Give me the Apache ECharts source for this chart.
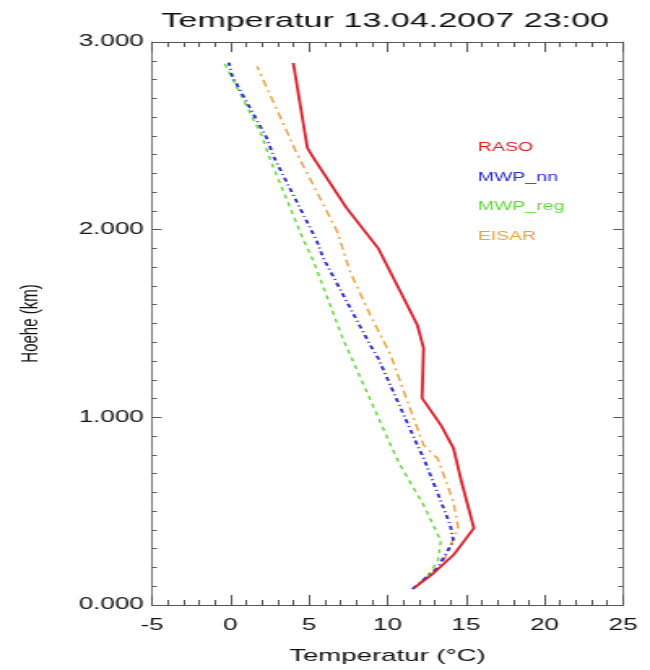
<!DOCTYPE html>
<html>
<head>
<meta charset="utf-8">
<script src="https://cdn.jsdelivr.net/npm/echarts@6/dist/echarts.min.js"></script>
<style>
  html, body { margin: 0; padding: 0; background: #fff; overflow: hidden; }
  /* The plot is laid out on a narrower canvas and widened horizontally,
     giving the broad lettering of the original IDL plot. */
  #chart { width: 400px; height: 670px; transform: scaleX(1.625); transform-origin: 0 0; }
</style>
</head>
<body>
<div id="chart"></div>
<script>
// Temperature profiles (°C) against height (km)
const rasoHeight = [0.091, 0.160, 0.266, 0.410, 0.661, 0.836, 0.959, 1.103, 1.369, 1.492, 1.673, 1.902, 2.115, 2.381, 2.435, 2.888];
const rasoTemp   = [11.7, 12.8, 14.2, 15.5, 14.7, 14.2, 13.4, 12.2, 12.3, 11.9, 10.8, 9.4, 7.4, 5.3, 4.9, 4.0];

const nnHeight = [0.085, 0.20, 0.341, 0.426, 0.783, 0.852, 1.316, 1.385, 1.85, 1.94, 2.38, 2.49, 2.82, 2.89];
const nnTemp   = [11.6, 13.2, 14.2, 14.0, 12.3, 11.9, 9.4, 8.9, 5.9, 5.5, 2.8, 2.3, 0.1, -0.1];

const regHeight = [0.085, 0.160, 0.234, 0.341, 0.533, 0.746, 0.852, 1.30, 1.41, 1.83, 1.955, 2.38, 2.50, 2.89];
const regTemp   = [11.6, 12.6, 13.2, 13.4, 12.3, 10.8, 10.2, 7.8, 7.2, 5.3, 4.6, 2.5, 2.0, -0.4];

const eisarHeight = [0.085, 0.20, 0.41, 0.55, 0.78, 0.852, 1.10, 1.332, 1.545, 1.78, 1.99, 2.25, 2.41, 2.87];
const eisarTemp   = [11.6, 13.4, 14.5, 14.2, 13.2, 12.3, 11.2, 10.2, 8.9, 7.6, 6.8, 5.2, 4.2, 1.7];

const xTicks = { min: -5, max: 25, step: 5 };
const yTicks = { min: 0, max: 3, step: 1 };

const seriesNames = ['RASO', 'MWP_nn', 'MWP_reg', 'EISAR'];
const seriesColors = ['#d8202c', '#2c2cc8', '#64d83c', '#eca040'];

function pairs(temps, heights) {
  return temps.map((t, i) => [t, heights[i]]);
}

const font = 'Liberation Sans, Arial, sans-serif';
const axisColor = '#555';
const textColor = '#111';

const chart = echarts.init(document.getElementById('chart'), null, { renderer: 'canvas' });

const baseX = {
  type: 'value',
  min: xTicks.min, max: xTicks.max, interval: xTicks.step,
  splitLine: { show: false },
  axisLine: { show: true, onZero: false, lineStyle: { color: axisColor, width: 1 } },
  axisTick: { show: true, inside: true, length: 10, lineStyle: { color: axisColor } },
  minorTick: { show: true, splitNumber: 5, length: 5, lineStyle: { color: axisColor } },
};
const baseY = {
  type: 'value',
  min: yTicks.min, max: yTicks.max, interval: yTicks.step,
  splitLine: { show: false },
  axisLine: { show: true, onZero: false, lineStyle: { color: axisColor, width: 0.8 } },
  axisTick: { show: true, inside: true, length: 6, lineStyle: { color: axisColor } },
  minorTick: { show: true, splitNumber: 10, length: 3, lineStyle: { color: axisColor } },
};

const lineStyles = [
  { width: 1.8, type: 'solid' },
  { width: 1.8, type: [4, 3, 1, 3] },
  { width: 1.4, type: [4, 4] },
  { width: 1.4, type: [7, 4, 2, 4] },
];

const dataSets = [
  pairs(rasoTemp, rasoHeight),
  pairs(nnTemp, nnHeight),
  pairs(regTemp, regHeight),
  pairs(eisarTemp, eisarHeight),
];

chart.setOption({
  animation: false,
  backgroundColor: '#fff',
  title: {
    text: 'Temperatur 13.04.2007 23:00',
    left: 232, top: 6, textAlign: 'center',
    textStyle: { fontFamily: font, fontSize: 21, fontWeight: 'normal', color: textColor }
  },
  legend: {
    orient: 'vertical',
    left: 289, top: 142, padding: 0,
    itemWidth: 0, itemHeight: 0, itemGap: 17.5,
    selectedMode: false,
    data: seriesNames.map((n, i) => ({
      name: n, icon: 'rect',
      textStyle: { color: seriesColors[i], fontFamily: font, fontSize: 12 }
    })),
  },
  grid: { left: 93.5, right: 16.6, top: 42, bottom: 60 },
  xAxis: [
    Object.assign({}, baseX, {
      position: 'bottom',
      name: 'Temperatur (°C)', nameLocation: 'middle', nameGap: 43,
      nameTextStyle: { fontFamily: font, fontSize: 17, color: textColor },
      axisLabel: { margin: 13, fontFamily: font, fontSize: 16, color: textColor },
    }),
    Object.assign({}, baseX, { position: 'top', axisLabel: { show: false } }),
  ],
  yAxis: [
    Object.assign({}, baseY, {
      position: 'left',
      name: 'Hoehe (km)', nameLocation: 'middle', nameGap: 67,
      nameTextStyle: { fontFamily: font, fontSize: 15, color: textColor },
      axisLabel: { margin: 5, fontFamily: font, fontSize: 16, color: textColor,
                   formatter: v => v.toFixed(3) },
    }),
    Object.assign({}, baseY, { position: 'right', axisLabel: { show: false } }),
  ],
  series: seriesNames.map((n, i) => ({
    name: n,
    type: 'line',
    xAxisIndex: 0, yAxisIndex: 0,
    data: dataSets[i],
    showSymbol: false,
    color: seriesColors[i],
    lineStyle: Object.assign({ color: seriesColors[i] }, lineStyles[i]),
    z: 10 - i,
  })),
});
</script>
</body>
</html>
